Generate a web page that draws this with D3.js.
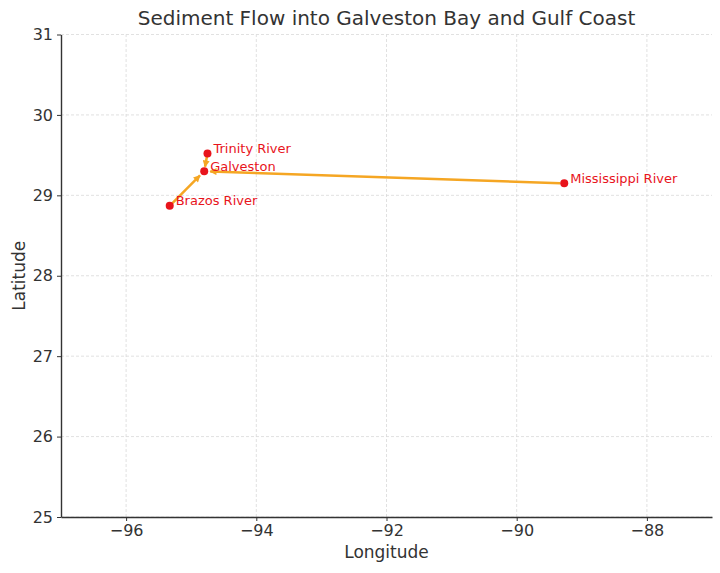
<!DOCTYPE html>
<html><head><meta charset="utf-8">
<script src="https://cdn.jsdelivr.net/npm/d3@7"></script>
<style>body{margin:0;background:#fff}text{font-family:"DejaVu Sans",sans-serif}</style>
</head><body><svg id="c" width="720" height="573"></svg>
<script>
const names = ["Galveston", "Trinity River", "Brazos River", "Mississippi River"];
const lons = [-94.80, -94.75, -95.33, -89.27];
const lats = [29.30, 29.52, 28.87, 29.15];
const flowFrom = ["Trinity River", "Brazos River", "Mississippi River"];
const flowTo = ["Galveston", "Galveston", "Galveston"];
const xTicks = [-96, -94, -92, -90, -88];
const yTicks = [25, 26, 27, 28, 29, 30, 31];

const svg = d3.select("#c");
const m = {l: 61, r: 8, t: 34.5, b: 56};
const W = 720, H = 573;
const x = d3.scaleLinear().domain([-97, -87]).range([m.l, W - m.r]);
const y = d3.scaleLinear().domain([25, 31]).range([H - m.b, m.t]);

// grid
const g = svg.append("g");
g.selectAll(".gx").data(xTicks).join("line")
  .attr("x1", d => x(d)).attr("x2", d => x(d)).attr("y1", y(25)).attr("y2", y(31))
  .attr("stroke", "#d9d9d9").attr("stroke-width", 0.8).attr("stroke-dasharray", "3,2");
g.selectAll(".gy").data(yTicks).join("line")
  .attr("x1", x(-97)).attr("x2", x(-87)).attr("y1", d => y(d)).attr("y2", d => y(d))
  .attr("stroke", "#d9d9d9").attr("stroke-width", 0.8).attr("stroke-dasharray", "3,2");

// axes
const xa = svg.append("g").attr("transform", `translate(0,${y(25)})`)
  .call(d3.axisBottom(x).tickValues(xTicks).tickSize(4).tickSizeOuter(0).tickPadding(4)
    .tickFormat(d => "\u2212" + Math.abs(d)));
const ya = svg.append("g").attr("transform", `translate(${x(-97)},0)`)
  .call(d3.axisLeft(y).tickValues(yTicks).tickSize(4).tickSizeOuter(0).tickPadding(4)
    .tickFormat(d3.format("d")));
[xa, ya].forEach(a => {
  a.select(".domain").attr("stroke", "#333").attr("stroke-width", 1.4);
  a.selectAll(".tick line").attr("stroke", "#333").attr("stroke-width", 1);
  a.selectAll(".tick text").attr("fill", "#333").style("font-size", "16px").style("font-family", "DejaVu Sans");
});

// arrows
const defs = svg.append("defs");
defs.append("marker").attr("id", "ah").attr("viewBox", "0 0 10 10").attr("refX", 9).attr("refY", 5)
  .attr("markerWidth", 9).attr("markerHeight", 7).attr("markerUnits", "userSpaceOnUse").attr("orient", "auto")
  .append("path").attr("d", "M0,0 L10,5 L0,10 Z").attr("fill", "#f5a623");
const idx = n => names.indexOf(n);
const flows = flowFrom.map((f, i) => [idx(f), idx(flowTo[i])]);
svg.append("g").selectAll("line").data(flows).join("line")
  .each(function ([a, b]) {
    const x1 = x(lons[a]), y1 = y(lats[a]), x2 = x(lons[b]), y2 = y(lats[b]);
    const dx = x2 - x1, dy = y2 - y1, L = Math.hypot(dx, dy);
    const s1 = Math.min(4, L * 0.05), s2 = Math.min(6, L * 0.25);
    d3.select(this).attr("x1", x1 + dx / L * s1).attr("y1", y1 + dy / L * s1)
      .attr("x2", x2 - dx / L * s2).attr("y2", y2 - dy / L * s2);
  })
  .attr("stroke", "#f5a623").attr("stroke-width", 2.5).attr("marker-end", "url(#ah)");

// points
svg.append("g").selectAll("circle").data(names).join("circle")
  .attr("cx", (d, i) => x(lons[i])).attr("cy", (d, i) => y(lats[i])).attr("r", 4)
  .attr("fill", "#e8141c");
svg.append("g").selectAll("text").data(names).join("text")
  .attr("x", (d, i) => x(lons[i]) + 6).attr("y", (d, i) => y(lats[i]) - 0.5)
  .attr("fill", "#e8141c").style("font-size", "13px").text(d => d);

// titles
svg.append("text").attr("x", (m.l + W - m.r) / 2).attr("y", 25).attr("text-anchor", "middle")
  .attr("fill", "#333").style("font-size", "20px").text("Sediment Flow into Galveston Bay and Gulf Coast");
svg.append("text").attr("x", (m.l + W - m.r) / 2).attr("y", 558).attr("text-anchor", "middle")
  .attr("fill", "#333").style("font-size", "17px").text("Longitude");
svg.append("text").attr("transform", `translate(25,${(y(25) + y(31)) / 2}) rotate(-90)`).attr("text-anchor", "middle")
  .attr("fill", "#333").style("font-size", "17px").text("Latitude");
</script></body></html>
